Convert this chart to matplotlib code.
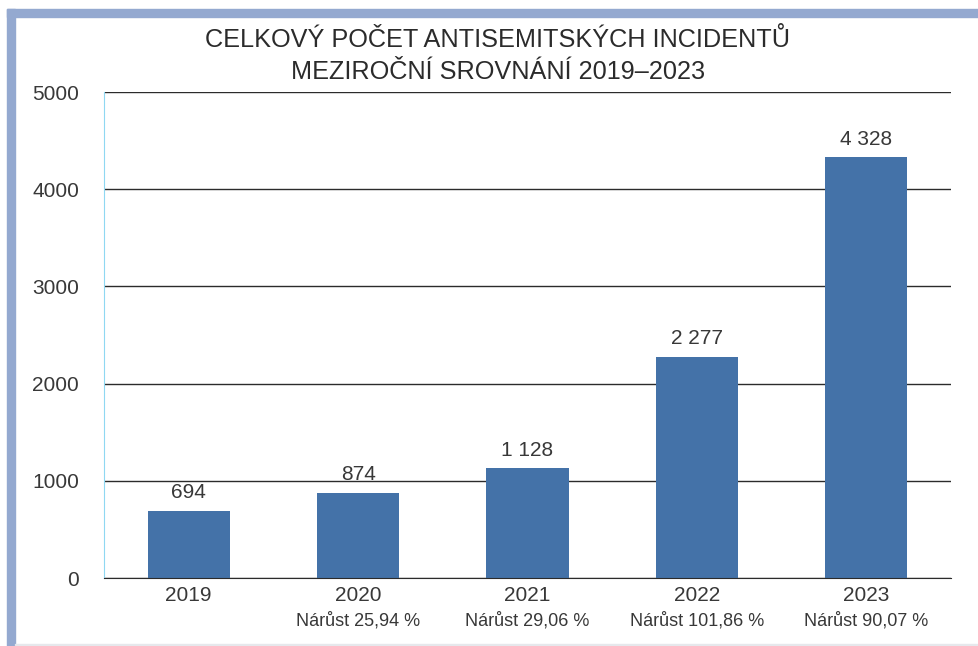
import matplotlib.pyplot as plt
from matplotlib.patches import Rectangle
from matplotlib.transforms import blended_transform_factory

plt.rcParams['font.family'] = ['Liberation Sans', 'DejaVu Sans']

years = ['2019', '2020', '2021', '2022', '2023']
counts = [694, 874, 1128, 2277, 4328]
count_labels = ['694', '874', '1 128', '2 277', '4 328']
growth = ['', 'Nárůst 25,94 %', 'Nárůst 29,06 %', 'Nárůst 101,86 %', 'Nárůst 90,07 %']
yticks = [0, 1000, 2000, 3000, 4000, 5000]

W, H = 979, 646
fig = plt.figure(figsize=(W/100, H/100), dpi=100)

# light blue frame (top + left), faint bottom line
frame = '#94a9d0'
fig.patches.append(Rectangle((7/W, 0), 8/W, 1 - 9/H, transform=fig.transFigure, color=frame, zorder=0))
fig.patches.append(Rectangle((7/W, 1 - 17/H), 1 - 7/W, 8/H, transform=fig.transFigure, color=frame, zorder=0))
fig.patches.append(Rectangle((15/W, 1/H), 1 - 15/W, 1.5/H, transform=fig.transFigure, color='#e6e8ec', zorder=0))

txt = '#383838'
ax = fig.add_axes([104/W, 1 - 578/H, 847/W, 486/H])
x = range(len(years))
bars = ax.bar(x, counts, width=0.485, color='#4472a8', zorder=3)

ax.set_ylim(0, 5000)
ax.set_xlim(-0.5, 4.5)
ax.set_yticks(yticks)
ax.set_yticklabels([str(v) for v in yticks], fontsize=15, color=txt)
ax.tick_params(axis='y', length=0, pad=18)
ax.set_xticks(list(x))
ax.set_xticklabels(years, fontsize=15, color=txt)
ax.tick_params(axis='x', length=0, pad=6)

ax.grid(axis='y', color='#2b2b2b', linewidth=1, zorder=1)
for s in ['top', 'right']:
    ax.spines[s].set_visible(False)
ax.spines['left'].set_color('#8fd8f2')
ax.spines['bottom'].set_color('#2b2b2b')
ax.spines['bottom'].set_zorder(4)

for b, lab in zip(bars, count_labels):
    ax.annotate(lab, (b.get_x() + b.get_width()/2, b.get_height()),
                xytext=(0, 13), textcoords='offset points',
                ha='center', va='center', fontsize=15, color=txt)

tr = blended_transform_factory(ax.transData, fig.transFigure)
for i, g in enumerate(growth):
    ax.text(i, 1 - 621/H, g, transform=tr, ha='center', va='center', fontsize=13, color=txt)

fig.text(498/W, 1 - 40/H, 'CELKOVÝ POČET ANTISEMITSKÝCH INCIDENTŮ', ha='center', va='center',
         fontsize=18.2, color='#2b2b2b')
fig.text(498/W, 1 - 72/H, 'MEZIROČNÍ SROVNÁNÍ 2019–2023', ha='center', va='center',
         fontsize=18.2, color='#2b2b2b')

fig.savefig('out.png', dpi=100)
